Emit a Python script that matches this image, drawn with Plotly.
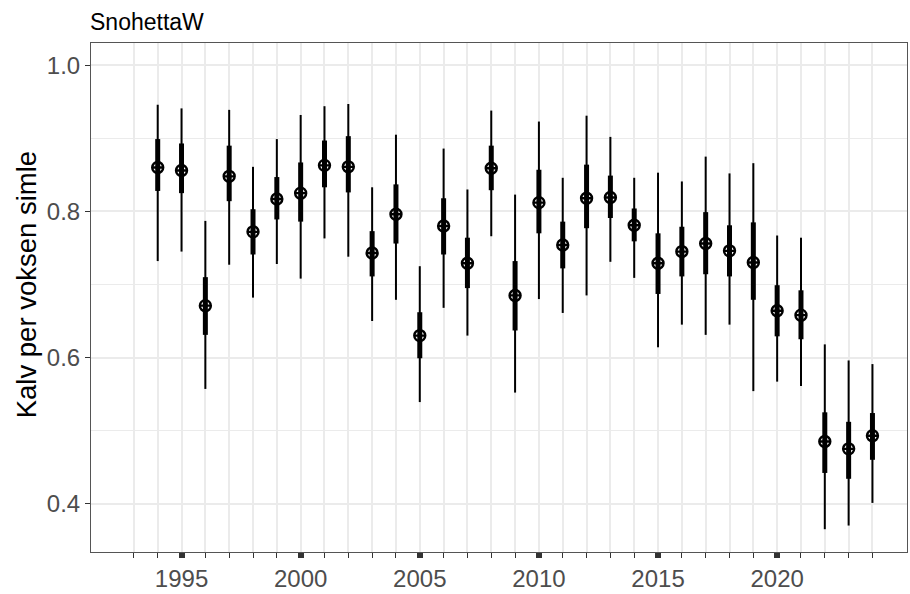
import plotly.graph_objects as go

years = list(range(1994, 2025))
mean = [0.860, 0.856, 0.671, 0.848, 0.772, 0.817, 0.825, 0.863, 0.861, 0.743,
        0.796, 0.630, 0.780, 0.729, 0.859, 0.685, 0.812, 0.754, 0.818, 0.819,
        0.781, 0.729, 0.745, 0.756, 0.746, 0.730, 0.664, 0.658, 0.485, 0.475, 0.493]
lo50 = [0.828, 0.825, 0.631, 0.814, 0.741, 0.789, 0.786, 0.833, 0.826, 0.711,
        0.756, 0.599, 0.741, 0.695, 0.829, 0.637, 0.770, 0.722, 0.777, 0.791,
        0.759, 0.687, 0.711, 0.714, 0.711, 0.679, 0.629, 0.625, 0.442, 0.434, 0.460]
hi50 = [0.899, 0.893, 0.710, 0.890, 0.803, 0.847, 0.867, 0.897, 0.903, 0.773,
        0.837, 0.662, 0.818, 0.764, 0.890, 0.732, 0.857, 0.786, 0.864, 0.849,
        0.804, 0.770, 0.779, 0.799, 0.781, 0.785, 0.699, 0.692, 0.525, 0.512, 0.524]
lo95 = [0.732, 0.745, 0.557, 0.727, 0.682, 0.728, 0.708, 0.763, 0.738, 0.650,
        0.679, 0.539, 0.668, 0.630, 0.766, 0.552, 0.680, 0.661, 0.685, 0.731,
        0.709, 0.614, 0.645, 0.631, 0.645, 0.554, 0.567, 0.561, 0.365, 0.370, 0.401]
hi95 = [0.946, 0.941, 0.787, 0.939, 0.861, 0.899, 0.932, 0.944, 0.947, 0.833,
        0.905, 0.725, 0.886, 0.830, 0.938, 0.823, 0.923, 0.846, 0.931, 0.902,
        0.846, 0.853, 0.841, 0.875, 0.852, 0.866, 0.767, 0.764, 0.618, 0.596, 0.591]

major_x = [1995, 2000, 2005, 2010, 2015, 2020]
minor_x = [y for y in range(1993, 2025) if y not in major_x]
major_y = [0.4, 0.6, 0.8, 1.0]
minor_y = [0.5, 0.7, 0.9]
title_text = "SnohettaW"
ylabel = "Kalv per voksen simle"

FONT = "Liberation Sans, Arial, sans-serif"


def segs(xs, lo, hi):
    sx, sy = [], []
    for x, a, b in zip(xs, lo, hi):
        sx += [x, x, None]
        sy += [a, b, None]
    return sx, sy


fig = go.Figure()
x95, y95 = segs(years, lo95, hi95)
fig.add_trace(go.Scatter(x=x95, y=y95, mode="lines",
                         line=dict(color="black", width=2), hoverinfo="skip"))
x50, y50 = segs(years, lo50, hi50)
fig.add_trace(go.Scatter(x=x50, y=y50, mode="lines",
                         line=dict(color="black", width=5), hoverinfo="skip"))
fig.add_trace(go.Scatter(x=years, y=mean, mode="markers",
                         marker=dict(symbol="circle-cross-open", size=11,
                                     color="black", line=dict(color="black", width=2.4))))

grid = "#ebebeb"
fig.update_layout(
    width=910, height=594,
    margin=dict(l=91, r=2, t=43, b=32),
    paper_bgcolor="white", plot_bgcolor="white",
    showlegend=False,
    font=dict(family=FONT, color="#4d4d4d"),
    title=dict(text=title_text, x=90 / 910, xanchor="left", xref="container",
               y=1 - 21.5 / 594, yanchor="middle", yref="container",
               font=dict(size=23, color="black", family=FONT)),
    xaxis=dict(range=[1991.2, 2025.45], tickmode="array", tickvals=major_x,
               ticktext=[str(v) for v in major_x],
               ticks="outside", ticklen=5, tickwidth=6, tickcolor="#333333",
               tickfont=dict(size=24, color="#4d4d4d"),
               showgrid=True, gridcolor=grid, gridwidth=1.6,
               minor=dict(tickmode="array", tickvals=minor_x, ticks="outside",
                          ticklen=5, tickwidth=1.2, tickcolor="#333333",
                          showgrid=True, gridcolor=grid, gridwidth=1.6),
               zeroline=False, showline=True, linecolor="#555555", linewidth=1,
               mirror=True),
    yaxis=dict(range=[0.3338, 1.0305], tickmode="array", tickvals=major_y,
               ticktext=[f"{v:.1f}" for v in major_y],
               ticks="outside", ticklen=5, tickwidth=1.2, tickcolor="#333333",
               tickfont=dict(size=24, color="#4d4d4d"),
               showgrid=True, gridcolor=grid, gridwidth=1.6,
               minor=dict(tickmode="array", tickvals=minor_y, ticks="",
                          showgrid=True, gridcolor=grid, gridwidth=1.2),
               zeroline=False, showline=True, linecolor="#555555", linewidth=1,
               mirror=True),
    annotations=[dict(text=ylabel, textangle=-90, xref="paper", yref="paper",
                      x=(26 - 91) / 817, y=(562 - 290) / 519, xanchor="center",
                      yanchor="middle", showarrow=False,
                      font=dict(size=27.5, color="black", family=FONT))],
)

fig.write_html("out.html")
